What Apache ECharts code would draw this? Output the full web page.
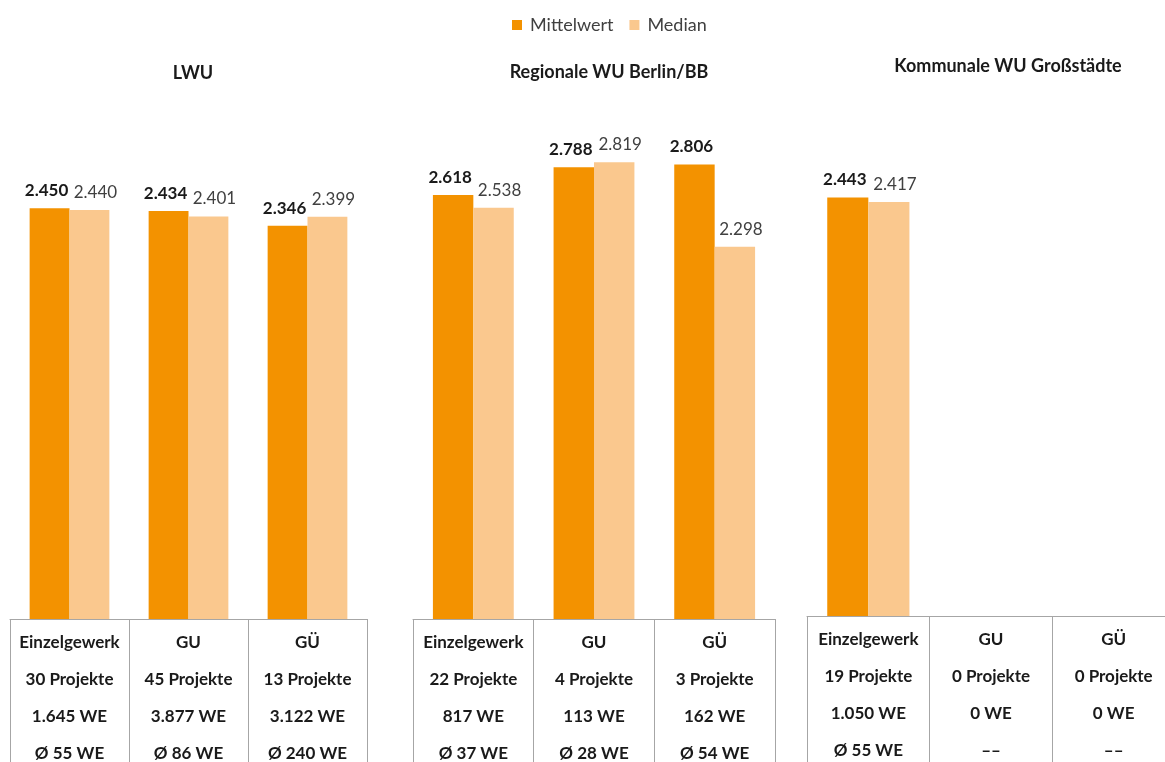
<!DOCTYPE html>
<html>
<head>
<meta charset="utf-8">
<script src="https://cdn.jsdelivr.net/npm/echarts@6/dist/echarts.min.js"></script>
<style>
  html, body { margin: 0; padding: 0; background: #ffffff; }
  #chart { width: 1165px; height: 762px; }
</style>
</head>
<body>
<div id="chart"></div>
<script>
// Vergabeart je Unternehmensgruppe
const categories = ['Einzelgewerk', 'GU', 'GÜ'];
const seriesNames = ['Mittelwert', 'Median'];
const panelTitles = ['LWU', 'Regionale WU Berlin/BB', 'Kommunale WU Großstädte'];

// Kosten (Mittelwert / Median)
const lwuMittel = [2450, 2434, 2346];
const lwuMedian = [2440, 2401, 2399];
const regMittel = [2618, 2788, 2806];
const regMedian = [2538, 2819, 2298];
const komMittel = [2443, null, null];
const komMedian = [2417, null, null];

// Stichprobe je Kategorie
const lwuProjekte = [30, 45, 13];
const lwuWE = [1645, 3877, 3122];
const lwuAvgWE = [55, 86, 240];
const regProjekte = [22, 4, 3];
const regWE = [817, 113, 162];
const regAvgWE = [37, 28, 54];
const komProjekte = [19, 0, 0];
const komWE = [1050, 0, 0];
const komAvgWE = [55, null, null];

const FONT = 'Lato, "Noto Sans", sans-serif';
const DARK = '#f39200';
const LIGHT = '#fac88e';
const GRID_LINE = '#a6a6a6';

function de(n) {
  return String(n).replace(/\B(?=(\d{3})+(?!\d))/g, '.');
}

function tableLabels(projekte, we, avg) {
  return categories.map((c, i) => [
    c,
    projekte[i] + ' Projekte',
    de(we[i]) + ' WE',
    avg[i] == null ? '––' : 'Ø ' + de(avg[i]) + ' WE'
  ].join('\n'));
}

const panels = [
  { mittel: lwuMittel, median: lwuMedian, labels: tableLabels(lwuProjekte, lwuWE, lwuAvgWE),
    grid: { left: 10, width: 357, top: 116, height: 503 }, titleX: 188, titleY: 59 },
  { mittel: regMittel, median: regMedian, labels: tableLabels(regProjekte, regWE, regAvgWE),
    grid: { left: 413, width: 362, top: 133, height: 486 }, titleX: 604, titleY: 58 },
  { mittel: komMittel, median: komMedian, labels: tableLabels(komProjekte, komWE, komAvgWE),
    grid: { left: 807, width: 368, top: 102, height: 514 }, titleX: 1003, titleY: 52 }
];

const option = {
  animation: false,
  backgroundColor: '#ffffff',
  textStyle: { fontFamily: FONT },
  legend: {
    data: seriesNames,
    top: 11,
    left: 507,
    itemWidth: 10,
    itemHeight: 10,
    itemGap: 16,
    icon: 'rect',
    textStyle: { fontFamily: FONT, fontSize: 18, color: '#404040', padding: [0, 0, 0, 3] }
  },
  title: panels.map((p, i) => ({
    text: panelTitles[i],
    left: p.titleX,
    top: p.titleY,
    textAlign: 'center',
    textStyle: { fontFamily: FONT, fontSize: 18, fontWeight: 'bold', color: '#1a1a1a' }
  })),
  grid: panels.map(p => Object.assign({ outerBoundsMode: 'none', containLabel: false }, p.grid)),
  xAxis: panels.map((p, i) => ({
    type: 'category',
    gridIndex: i,
    data: p.labels,
    axisLine: { show: true, lineStyle: { color: GRID_LINE, width: 1 } },
    axisTick: { show: true, length: 160, alignWithLabel: false, lineStyle: { color: GRID_LINE, width: 1 } },
    axisLabel: {
      interval: 0,
      margin: 5,
      fontFamily: FONT,
      fontSize: 17,
      fontWeight: 'bold',
      color: '#1a1a1a',
      lineHeight: 37
    }
  })),
  yAxis: panels.map((p, i) => ({
    type: 'value',
    gridIndex: i,
    min: 0,
    max: 3000,
    show: false,
    splitLine: { show: false }
  })),
  series: []
};

panels.forEach((p, i) => {
  option.series.push({
    name: seriesNames[0],
    type: 'bar',
    xAxisIndex: i,
    yAxisIndex: i,
    data: p.mittel,
    barGap: '0%',
    barCategoryGap: '33%',
    itemStyle: { color: DARK },
    label: {
      show: true,
      position: 'top',
      distance: 9,
      offset: [-3, 0],
      fontFamily: FONT,
      fontSize: 17,
      fontWeight: 'bold',
      color: '#1a1a1a',
      formatter: d => de(d.value)
    }
  });
  option.series.push({
    name: seriesNames[1],
    type: 'bar',
    xAxisIndex: i,
    yAxisIndex: i,
    data: p.median,
    barGap: '0%',
    barCategoryGap: '33%',
    itemStyle: { color: LIGHT },
    label: {
      show: true,
      position: 'top',
      distance: 9,
      offset: [6, 0],
      fontFamily: FONT,
      fontSize: 17,
      color: '#404040',
      formatter: d => de(d.value)
    }
  });
});

const chart = echarts.init(document.getElementById('chart'), null, { renderer: 'canvas' });
chart.setOption(option);
</script>
</body>
</html>
